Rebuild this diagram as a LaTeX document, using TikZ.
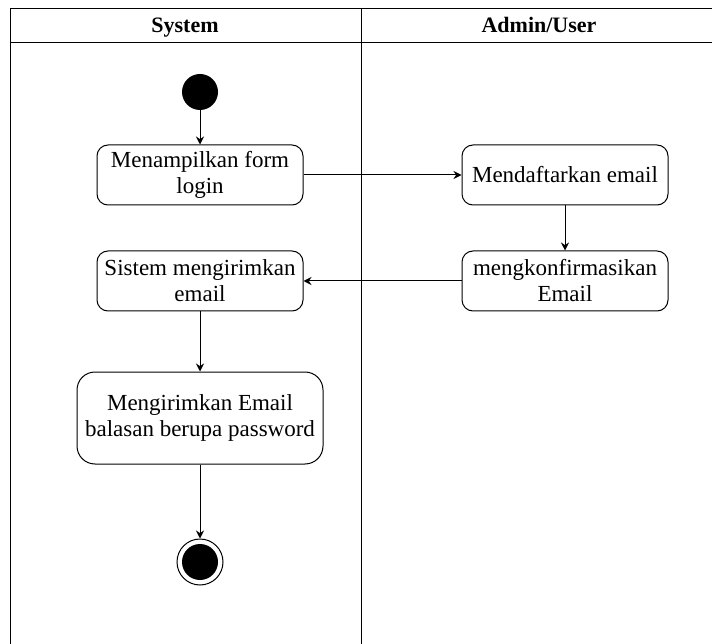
\documentclass[tikz,border=0pt]{standalone}
\usepackage{fontspec}
\setmainfont{Liberation Serif}
\usetikzlibrary{positioning,arrows.meta}
\tikzset{
    act/.style={draw, rounded corners=11pt, align=center, minimum width=206pt, minimum height=60pt, inner sep=2pt},
    lane/.style={font=\fontsize{22}{26}\selectfont\bfseries, anchor=base},
    startnode/.style={circle, fill=black, minimum size=36pt, inner sep=0pt},
    stopnode/.style={circle, draw, minimum size=46pt, inner sep=0pt,
        path picture={\fill (path picture bounding box.center) circle (18pt);}},
    flow/.style={-{Stealth[length=8pt,width=8pt]}}
}
\begin{document}
\begin{tikzpicture}[x=1pt, y=-1pt, line width=1pt,
        every node/.style={font=\fontsize{23}{26}\selectfont}]
            \useasboundingbox (0,0) rectangle (712,644);
            % lanes
            \draw (10,644) -- (10,9) -- (712,9);
            \draw (10,43) -- (712,43);
            \draw (361,9) -- (361,644);
            \node[lane] (sys) at (185,33) {System};
            \node[lane] (adm) at (539,33) {Admin/User};

            % activities
            \node[startnode] (start) at (200,92) {};
            \node[act] (form) at (200,175) {Menampilkan form\\login};
            \node[act] (daftar) at (565,175) {Mendaftarkan email};
            \node[act] (konfirm) at (565,281) {mengkonfirmasikan\\Email};
            \node[act] (kirim) at (200,281) {Sistem mengirimkan\\email};
            \node[act, minimum width=246pt, minimum height=92pt, rounded corners=18pt] (balas)
                at (200,418) {Mengirimkan Email\\balasan berupa password};
            \node[stopnode] (stop) at (200,562) {};

            \draw[flow] (start) -- (form);
            \draw[flow] (form) -- (daftar);
            \draw[flow] (daftar) -- (konfirm);
            \draw[flow] (konfirm) -- (kirim);
            \draw[flow] (kirim) -- (balas);
            \draw[flow] (balas) -- (stop);
        \end{tikzpicture}
\end{document}
